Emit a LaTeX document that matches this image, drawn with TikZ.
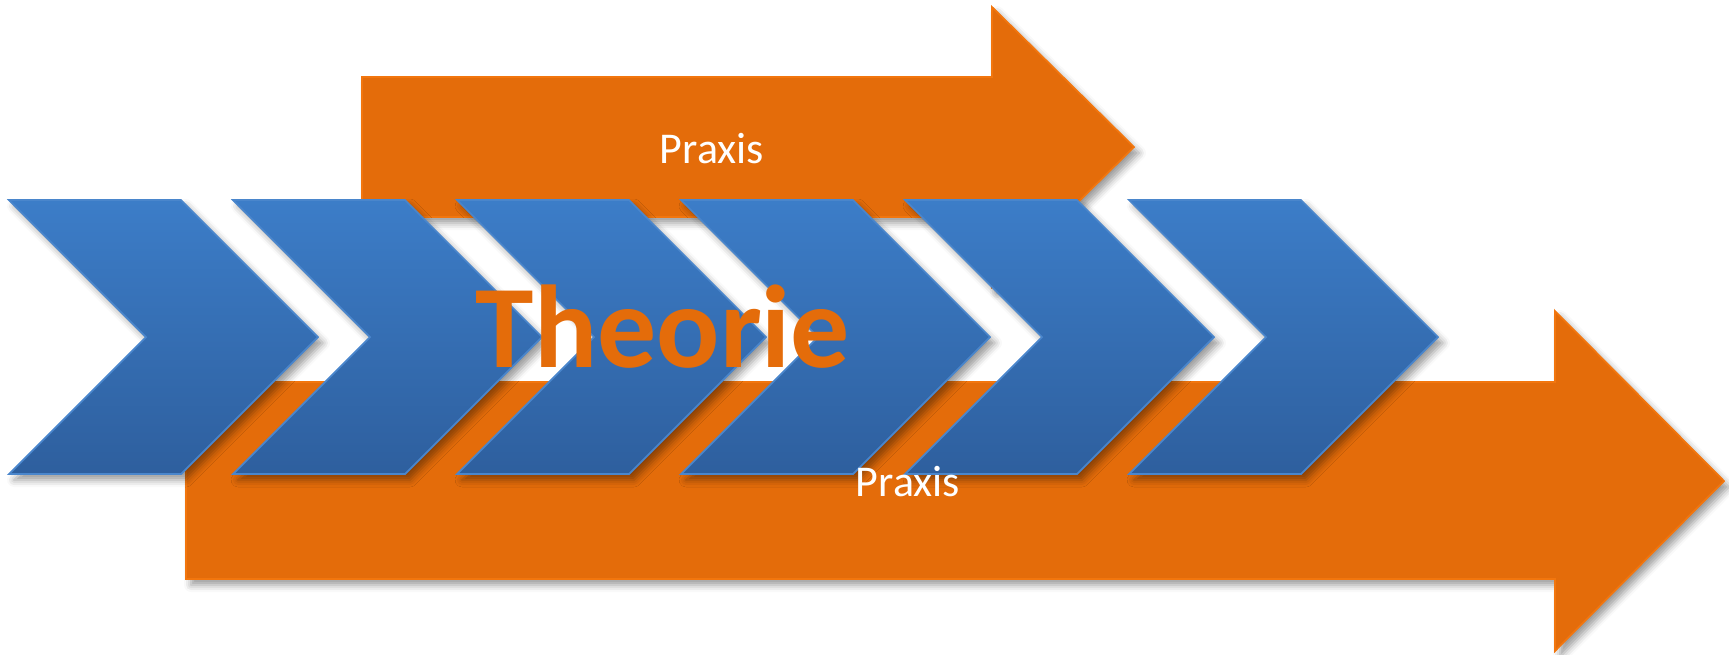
\documentclass[tikz,border=0pt]{standalone}
\usepackage{fontspec}
\setmainfont{Carlito}
\usetikzlibrary{shadows.blur}
\definecolor{praxisorange}{HTML}{E46C0A}
\definecolor{praxisedge}{HTML}{F2760E}
\definecolor{theorytop}{HTML}{3C7DC8}
\definecolor{theorybot}{HTML}{2E5F9E}
\definecolor{theoryedge}{HTML}{4A86CC}
\tikzset{
  softshadow/.style={blur shadow={shadow xshift=0.5mm, shadow yshift=-0.6mm,
      shadow blur radius=0.7mm, shadow opacity=40}},
  chevron/.style={top color=theorytop, bottom color=theorybot,
      draw=theoryedge, line width=0.5pt, softshadow},
  bigarrow/.style={fill=praxisorange, draw=praxisedge, line width=0.5pt, softshadow},
  praxislabel/.style={text=white, font=\fontsize{12.5}{15}\selectfont, anchor=base}
}

\begin{document}
\begin{tikzpicture}[x=0.01cm, y=-0.01cm]
\useasboundingbox (0,0) rectangle (1729,654);
% praxis arrows
\draw[bigarrow] (186,382) -- (1555,382) -- (1555,311) -- (1724,481)
      -- (1555,651) -- (1555,579) -- (186,579) -- cycle;
\draw[bigarrow] (362,77) -- (992,77) -- (992,7) -- (1134,147)
      -- (992,287) -- (992,217) -- (362,217) -- cycle;
% chevrons
\draw[chevron] (9,200) -- (181,200) -- (318,337) -- (181,474) -- (9,474) -- (146,337) -- cycle;
\draw[chevron] (233,200) -- (405,200) -- (542,337) -- (405,474) -- (233,474) -- (370,337) -- cycle;
\draw[chevron] (457,200) -- (629,200) -- (766,337) -- (629,474) -- (457,474) -- (594,337) -- cycle;
\draw[chevron] (681,200) -- (853,200) -- (990,337) -- (853,474) -- (681,474) -- (818,337) -- cycle;
\draw[chevron] (905,200) -- (1077,200) -- (1214,337) -- (1077,474) -- (905,474) -- (1042,337) -- cycle;
\draw[chevron] (1129,200) -- (1301,200) -- (1438,337) -- (1301,474) -- (1129,474) -- (1266,337) -- cycle;
% labels
\node[praxislabel] (praxisTop) at (712,163) {Praxis};
\node[praxislabel] (praxisBottom) at (908,496) {Praxis};
\node[text=praxisorange, font=\fontsize{33.5}{40}\selectfont\bfseries, anchor=base]
      (theorie) at (663,367) {Theorie};
\end{tikzpicture}
\end{document}
